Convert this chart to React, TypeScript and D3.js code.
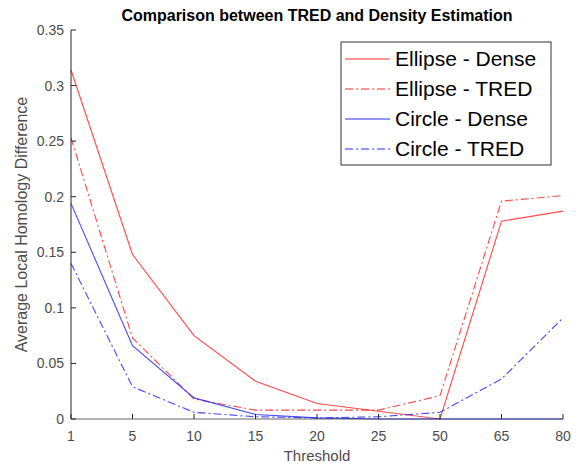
import { useEffect, useRef } from 'react'
import * as d3 from 'd3'

const THRESHOLDS = ['1', '5', '10', '15', '20', '25', '50', '65', '80']
const ELLIPSE_DENSE = [0.314, 0.148, 0.075, 0.034, 0.014, 0.007, 0.0, 0.178, 0.187]
const ELLIPSE_TRED = [0.253, 0.073, 0.018, 0.008, 0.008, 0.008, 0.021, 0.196, 0.201]
const CIRCLE_DENSE = [0.194, 0.066, 0.019, 0.004, 0.001, 0.0, 0.0, 0.0, 0.0]
const CIRCLE_TRED = [0.14, 0.029, 0.006, 0.002, 0.001, 0.002, 0.006, 0.036, 0.091]
const Y_TICKS = [0, 0.05, 0.1, 0.15, 0.2, 0.25, 0.3, 0.35]

const SERIES = [
  { label: 'Ellipse - Dense', values: ELLIPSE_DENSE, color: '#ff2a2a', dash: null },
  { label: 'Ellipse - TRED', values: ELLIPSE_TRED, color: '#ff2a2a', dash: '8,3,2,3' },
  { label: 'Circle - Dense', values: CIRCLE_DENSE, color: '#2a2aff', dash: null },
  { label: 'Circle - TRED', values: CIRCLE_TRED, color: '#2a2aff', dash: '8,3,2,3' },
]

const FONT = 'Liberation Sans, Arial, sans-serif'
const W = 576
const H = 465

export default function App() {
  const svgRef = useRef<SVGSVGElement>(null)

  useEffect(() => {
    const el = svgRef.current
    if (!el) return
    const svg = d3.select(el)
    svg.selectAll('*').remove()

    const pad = { l: 71, r: 13, t: 30, b: 46 }
    const x = d3.scalePoint().domain(THRESHOLDS).range([pad.l, W - pad.r])
    const y = d3.scaleLinear().domain([0, 0.35]).range([H - pad.b, pad.t])
    const axisColor = '#262626'
    const tickColor = '#4d4d4d'

    svg.append('rect').attr('width', W).attr('height', H).attr('fill', '#fff')

    // lines
    const line = d3.line<number>()
      .x((_, i) => x(THRESHOLDS[i]) as number)
      .y(d => y(d))

    SERIES.forEach(s => {
      svg.append('path')
        .datum(s.values)
        .attr('d', line)
        .attr('fill', 'none')
        .attr('stroke', s.color)
        .attr('stroke-opacity', 0.85)
        .attr('stroke-width', 1.1)
        .attr('stroke-dasharray', s.dash)
    })

    // axes
    svg.append('line')
      .attr('x1', pad.l).attr('x2', pad.l)
      .attr('y1', y(0)).attr('y2', y(0.35))
      .attr('stroke', axisColor)
    svg.append('line')
      .attr('x1', pad.l).attr('x2', W - pad.r)
      .attr('y1', y(0)).attr('y2', y(0))
      .attr('stroke', axisColor)
      .attr('stroke-opacity', 0.7)

    Y_TICKS.forEach(t => {
      svg.append('line')
        .attr('x1', pad.l).attr('x2', pad.l + 5)
        .attr('y1', y(t)).attr('y2', y(t))
        .attr('stroke', axisColor)
      svg.append('text')
        .attr('x', pad.l - 7)
        .attr('y', y(t) + 5)
        .attr('text-anchor', 'end')
        .attr('font-size', 14)
        .attr('font-family', FONT)
        .attr('fill', tickColor)
        .text(d3.format('~g')(t))
    })

    THRESHOLDS.forEach(t => {
      svg.append('line')
        .attr('x1', x(t) as number).attr('x2', x(t) as number)
        .attr('y1', y(0)).attr('y2', y(0) - 5)
        .attr('stroke', axisColor)
      svg.append('text')
        .attr('x', x(t) as number)
        .attr('y', y(0) + 22)
        .attr('text-anchor', 'middle')
        .attr('font-size', 14)
        .attr('font-family', FONT)
        .attr('fill', tickColor)
        .text(t)
    })

    // labels
    svg.append('text')
      .attr('x', (pad.l + W - pad.r) / 2)
      .attr('y', 21)
      .attr('text-anchor', 'middle')
      .attr('font-size', 16)
      .attr('font-weight', 'bold')
      .attr('font-family', FONT)
      .attr('fill', '#000')
      .text('Comparison between TRED and Density Estimation')

    svg.append('text')
      .attr('x', (pad.l + W - pad.r) / 2)
      .attr('y', H - 4)
      .attr('text-anchor', 'middle')
      .attr('font-size', 15)
      .attr('font-family', FONT)
      .attr('fill', tickColor)
      .text('Threshold')

    svg.append('text')
      .attr('transform', `translate(27,${(y(0) + y(0.35)) / 2}) rotate(-90)`)
      .attr('text-anchor', 'middle')
      .attr('font-size', 16)
      .attr('font-family', FONT)
      .attr('fill', tickColor)
      .text('Average Local Homology Difference')

    // legend
    const lg = svg.append('g').attr('transform', 'translate(341,42)')
    lg.append('rect')
      .attr('width', 210).attr('height', 123)
      .attr('fill', '#fff')
      .attr('stroke', '#333')
      .attr('stroke-width', 1)
    SERIES.forEach((s, i) => {
      const ly = 17 + i * 30
      lg.append('line')
        .attr('x1', 4).attr('x2', 49)
        .attr('y1', ly).attr('y2', ly)
        .attr('stroke', s.color)
        .attr('stroke-width', 1.2)
        .attr('stroke-dasharray', s.dash)
      lg.append('text')
        .attr('x', 54)
        .attr('y', ly + 7)
        .attr('font-size', 21)
        .attr('font-family', FONT)
        .attr('fill', '#000')
        .text(s.label)
    })
  }, [])

  return <svg ref={svgRef} width={W} height={H} style={{ display: 'block', position: 'absolute', left: 0, top: 0 }} />
}
